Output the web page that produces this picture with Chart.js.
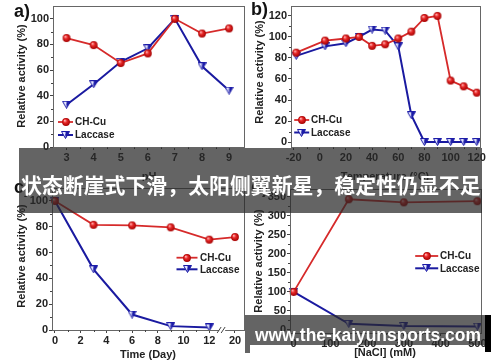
<!DOCTYPE html>
<html><head><meta charset="utf-8">
<script src="https://cdn.jsdelivr.net/npm/chart.js@4.4.1/dist/chart.umd.min.js"></script>
<style>
html,body{margin:0;padding:0;background:#fff}
body{width:500px;height:362px;position:relative;overflow:hidden;font-family:"Liberation Sans",Arial,sans-serif}
canvas{position:absolute}
.band{position:absolute;background:rgba(40,40,40,0.72)}
.txt{position:absolute;white-space:nowrap;color:#fff;font-weight:bold;line-height:1}
</style></head><body>
<canvas id="ca" width="250" height="181" style="left:0;top:0"></canvas>
<canvas id="cb" width="250" height="181" style="left:250px;top:0"></canvas>
<canvas id="cc" width="250" height="181" style="left:0;top:181px"></canvas>
<canvas id="cd" width="250" height="181" style="left:250px;top:181px"></canvas>
<div class="band" style="left:19px;top:148px;width:463px;height:65px"></div>
<div class="band" style="left:245px;top:315px;width:240px;height:30px"></div>
<div class="band" style="left:245px;top:345px;width:5px;height:8px"></div>
<div style="position:absolute;left:485px;top:315px;width:6px;height:37px;background:#000"></div>
<span id="banner" class="txt" style="font-family:'Noto Sans CJK SC',sans-serif">状态断崖式下滑，太阳侧翼新星，稳定性仍显不足</span>
<span id="wm" class="txt" style="font-family:'Liberation Sans',Arial,sans-serif">www.the-kaiyunsports.com</span>
<script>
// ---------- data ----------
const seriesNames = ['CH-Cu', 'Laccase'];

const pH = [3, 4, 5, 6, 7, 8, 9];
const pH_CHCu = [85, 79.5, 65.5, 73, 100, 88.5, 92.5];
const pH_Laccase = [33, 49, 66.5, 77, 100, 63, 44];
const pH_xTicks = [3, 4, 5, 6, 7, 8, 9];
const pH_yTicks = [0, 20, 40, 60, 80, 100];

const temp = [-18, 4, 20, 30, 40, 50, 60, 70, 80, 90, 100, 110, 120];
const temp_CHCu = [85, 96.5, 98.5, 100, 91.5, 93, 98.5, 105, 118, 120, 58.5, 53, 47];
const temp_Laccase = [82, 91, 94, 100, 107, 106, 91, 25.5, 0, 0, 0, 0, 0];
const temp_xTicks = [-20, 0, 20, 40, 60, 80, 100, 120];
const temp_yTicks = [0, 20, 40, 60, 80, 100, 120];

const days = [0, 3, 6, 9, 12, 20];
const days_CHCu = [100, 81.5, 81, 79.5, 70, 72];
const days_Laccase = [100, 47, 12, 3, 2];
const days_xTicks = [0, 2, 4, 6, 8, 10, 12, 20];
const days_yTicks = [0, 20, 40, 60, 80, 100];

const nacl = [0, 150, 300, 500];
const nacl_CHCu = [100, 343, 335, 338];
const nacl_Laccase = [100, 16, 10.5, 9];
const nacl_xTicks = [0, 100, 200, 300, 400, 500];
const nacl_yTicks = [0, 50, 100, 150, 200, 250, 300, 350];

// axis break for panel c: days after the break are drawn at position 14
const breakPos = d => (d > 13 ? 14 : d);

// ---------- marker images ----------
function sphere(r) {
  const d = Math.ceil(2 * r + 2);
  const c = document.createElement('canvas'); c.width = c.height = d;
  const g = c.getContext('2d');
  const grd = g.createRadialGradient(d/2 - r*0.35, d/2 - r*0.4, r*0.1, d/2, d/2, r);
  grd.addColorStop(0, '#ffb0b0'); grd.addColorStop(0.4, '#e82828'); grd.addColorStop(1, '#a50000');
  g.fillStyle = grd; g.beginPath(); g.arc(d/2, d/2, r, 0, Math.PI*2); g.fill();
  return c;
}
function tri() {
  const w = 9, h = 8;
  const c = document.createElement('canvas'); c.width = w; c.height = h;
  const g = c.getContext('2d');
  g.beginPath(); g.moveTo(0.5, 0.5); g.lineTo(w/2, 0.5); g.lineTo(w/2, h - 0.5); g.closePath();
  g.fillStyle = '#e6e8ff'; g.fill();
  g.beginPath(); g.moveTo(w/2, 0.5); g.lineTo(w - 0.5, 0.5); g.lineTo(w/2, h - 0.5); g.closePath();
  g.fillStyle = '#1c1ca8'; g.fill();
  g.beginPath(); g.moveTo(0.5, 0.5); g.lineTo(w - 0.5, 0.5); g.lineTo(w/2, h - 0.5); g.closePath();
  g.strokeStyle = '#1c1ca8'; g.lineWidth = 1; g.stroke();
  return c;
}
const imgCu = sphere(3.9), imgLac = tri();
const colCu = 'rgb(214,42,42)', colLac = 'rgb(26,26,160)';
const FONT = '"Liberation Sans", Arial, sans-serif';

// ---------- decoration plugin ----------
const decor = {
  id: 'decor',
  afterDraw(chart, args, o) {
    const ctx = chart.ctx, a = chart.chartArea;
    const xs = chart.scales.x, ys = chart.scales.y;
    ctx.save();
    // box
    ctx.strokeStyle = '#666'; ctx.lineWidth = 1;
    ctx.strokeRect(a.left + 0.5, a.top + 0.5, a.right - a.left, a.bottom - a.top);
    // minor ticks
    ctx.strokeStyle = '#444'; ctx.beginPath();
    const xt = o.xMinor || [];
    xt.forEach(v => { const p = Math.round(xs.getPixelForValue(v)) + 0.5; ctx.moveTo(p, a.bottom); ctx.lineTo(p, a.bottom + 2); });
    const yt = o.yMinor || [];
    yt.forEach(v => { const p = Math.round(ys.getPixelForValue(v)) + 0.5; ctx.moveTo(a.left, p); ctx.lineTo(a.left - 2, p); });
    ctx.stroke();
    // axis break
    if (o.breakAt !== undefined) {
      const p = xs.getPixelForValue(o.breakAt);
      ctx.fillStyle = '#fff'; ctx.fillRect(p - 3, a.bottom - 1, 6, 3);
      ctx.strokeStyle = '#444'; ctx.beginPath();
      ctx.moveTo(p - 5, a.bottom + 3); ctx.lineTo(p - 1, a.bottom - 3);
      ctx.moveTo(p - 1, a.bottom + 3); ctx.lineTo(p + 3, a.bottom - 3);
      ctx.stroke();
    }
    // legend
    const L = o.legend;
    ctx.font = 'bold 10px ' + FONT; ctx.textBaseline = 'middle'; ctx.textAlign = 'left'; ctx.fillStyle = '#222';
    [[colCu, imgCu, 1.8], [colLac, imgLac, 2]].forEach((s, i) => {
      const y = L.y + i * L.dy;
      ctx.strokeStyle = s[0]; ctx.lineWidth = s[2];
      ctx.beginPath(); ctx.moveTo(L.x - L.half, y); ctx.lineTo(L.x + L.half, y); ctx.stroke();
      ctx.drawImage(s[1], Math.round(L.x - s[1].width/2), Math.round(y - s[1].height/2));
      ctx.fillText(seriesNames[i], L.tx, y + 0.5);
    });
    // titles
    ctx.fillStyle = '#222'; ctx.font = 'bold 11px ' + FONT; ctx.textAlign = 'center'; ctx.textBaseline = 'middle';
    ctx.fillText(o.xTitle.t, o.xTitle.x, o.xTitle.y);
    ctx.save(); ctx.translate(o.yTitle.x, o.yTitle.y); ctx.rotate(-Math.PI/2);
    ctx.fillText(o.yTitle.t, 0, 0); ctx.restore();
    // panel label
    ctx.font = 'bold 18px ' + FONT; ctx.textAlign = 'left'; ctx.textBaseline = 'alphabetic'; ctx.fillStyle = '#111';
    ctx.fillText(o.label.t, o.label.x, o.label.y);
    ctx.restore();
  }
};

function minors(t) { const r = []; for (let i = 0; i < t.length - 1; i++) r.push((t[i] + t[i+1]) / 2); return r; }

function makeChart(p) {
  const W = 250, H = 181, A = p.area;
  const ds = (xs, ys, col, img, bw) => ({
    data: ys.map((v, i) => ({ x: xs[i], y: v })),
    showLine: true, borderColor: col, borderWidth: bw, backgroundColor: col,
    pointStyle: img, pointRadius: 4, clip: false
  });
  const tickFont = { family: FONT, size: 11, weight: 'bold' };
  new Chart(document.getElementById(p.id), {
    type: 'scatter',
    data: { datasets: [
      ds(p.xs, p.cu, colCu, imgCu, 1.8),
      ds(p.xsL || p.xs, p.lac, colLac, imgLac, 2)
    ] },
    options: {
      responsive: false, animation: false, devicePixelRatio: 1,
      layout: { padding: { left: 0, top: A.t, right: W - A.r, bottom: 0 } },
      plugins: { legend: { display: false }, tooltip: { enabled: false }, decor: p.decor },
      scales: {
        x: {
          type: 'linear', min: p.xMin, max: p.xMax,
          afterBuildTicks: s => { s.ticks = p.xTickPos.map(v => ({ value: v })); },
          afterFit: s => { s.height = H - A.b; s.paddingLeft = 0; s.paddingRight = 0; },
          ticks: { callback: (v, i) => p.xTickLab[i], font: tickFont, color: '#222', padding: 1, maxRotation: 0, autoSkip: false },
          grid: { drawOnChartArea: false, drawTicks: true, tickLength: 3, color: '#444' },
          border: { display: false }
        },
        y: {
          min: p.yMin, max: p.yMax,
          afterBuildTicks: s => { s.ticks = p.yTicks.map(v => ({ value: v })); },
          afterFit: s => { s.width = A.l; s.paddingTop = 0; s.paddingBottom = 0; },
          ticks: { callback: v => String(v), font: tickFont, color: '#222', padding: 1, autoSkip: false },
          grid: { drawOnChartArea: false, drawTicks: true, tickLength: 3, color: '#444' },
          border: { display: false }
        }
      }
    },
    plugins: [decor]
  });
}

const yTitle = 'Relative activity (%)';
makeChart({ id: 'ca', area: { l: 53, t: 5, r: 245, b: 147 },
  xs: pH, cu: pH_CHCu, lac: pH_Laccase, xMin: 2.5, xMax: 9.55, yMin: 0, yMax: 110,
  xTickPos: pH_xTicks, xTickLab: pH_xTicks.map(String), yTicks: pH_yTicks,
  decor: { xMinor: minors(pH_xTicks), yMinor: minors(pH_yTicks),
    legend: { x: 65.5, y: 122, dy: 13, half: 7.5, tx: 75 },
    xTitle: { t: 'pH', x: 149, y: 177 }, yTitle: { t: yTitle, x: 22, y: 76 },
    label: { t: 'a)', x: 14, y: 17 } } });

makeChart({ id: 'cb', area: { l: 41, t: 5, r: 230, b: 147 },
  xs: temp, cu: temp_CHCu, lac: temp_Laccase, xMin: -22, xMax: 122.5, yMin: -4.7, yMax: 129.4,
  xTickPos: temp_xTicks, xTickLab: temp_xTicks.map(String), yTicks: temp_yTicks,
  decor: { xMinor: minors(temp_xTicks), yMinor: minors(temp_yTicks),
    legend: { x: 51.7, y: 120, dy: 12.5, half: 7.5, tx: 61 },
    xTitle: { t: 'Temperature (°C)', x: 135, y: 177 }, yTitle: { t: yTitle, x: 10, y: 72 },
    label: { t: 'b)', x: 1, y: 15 } } });

makeChart({ id: 'cc', area: { l: 52, t: 7, r: 244, b: 149 },
  xs: days.map(breakPos), xsL: days.slice(0, days_Laccase.length).map(breakPos),
  cu: days_CHCu, lac: days_Laccase, xMin: -0.23, xMax: 14.7, yMin: 0, yMax: 110,
  xTickPos: days_xTicks.map(breakPos), xTickLab: days_xTicks.map(String), yTicks: days_yTicks,
  decor: { xMinor: [1, 3, 5, 7, 9, 11], yMinor: minors(days_yTicks), breakAt: 13,
    legend: { x: 187, y: 76.7, dy: 11.6, half: 10.5, tx: 200 },
    xTitle: { t: 'Time (Day)', x: 148, y: 174 }, yTitle: { t: yTitle, x: 22, y: 75 },
    label: { t: 'c)', x: 14, y: 12 } } });

makeChart({ id: 'cd', area: { l: 40, t: 8, r: 231, b: 152 },
  xs: nacl, cu: nacl_CHCu, lac: nacl_Laccase, xMin: -10, xMax: 510, yMin: -8, yMax: 370,
  xTickPos: nacl_xTicks, xTickLab: nacl_xTicks.map(String), yTicks: nacl_yTicks,
  decor: { xMinor: minors(nacl_xTicks), yMinor: minors(nacl_yTicks),
    legend: { x: 176.7, y: 75, dy: 12.3, half: 11.5, tx: 190 },
    xTitle: { t: '[NaCl] (mM)', x: 135, y: 172 }, yTitle: { t: yTitle, x: 9, y: 80 },
    label: { t: 'd)', x: 1, y: 12 } } });

// ---------- overlay texts fitted to their widths ----------
function fit(el, fs, targetW, left, centerY, baselineFactor) {
  el.style.fontSize = fs + 'px';
  const w = el.getBoundingClientRect().width;
  const f = fs * targetW / w;
  el.style.fontSize = f + 'px';
  el.style.left = left + 'px';
  el.style.top = (centerY - f * baselineFactor) + 'px';
}
fit(document.getElementById('banner'), 21, 460, 21, 184, 0.5);
fit(document.getElementById('wm'), 18, 226, 255, 342, 0.85);
</script>
</body></html>
